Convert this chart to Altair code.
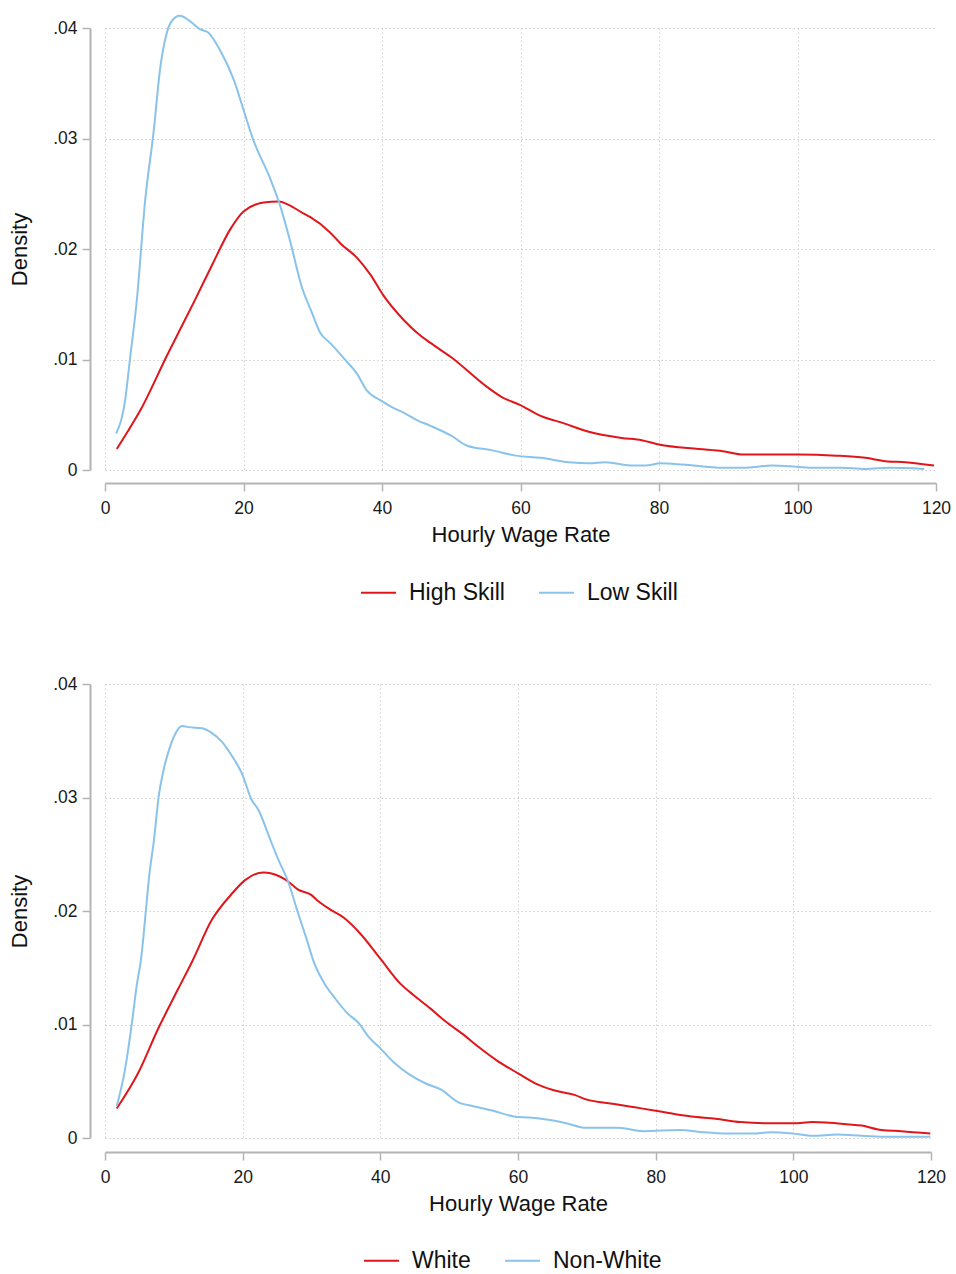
import altair as alt
import pandas as pd

# ---------------- data ----------------
top_high_x = [1.7, 3.3, 5.1, 8.9, 13.0, 15.5, 18.1, 20.0, 22.9, 25.1, 26.5, 28.7, 29.6, 32.5, 34.0, 36.4,
              38.3, 40.2, 43.1, 45.1, 47.0, 50.0, 55.2, 57.3, 59.9, 62.9, 66.4, 69.6, 74.6, 77.5, 80.0,
              85.7, 89.2, 92.2, 97.4, 100.0, 105.6, 109.8, 112.7, 115.6, 119.7]
top_high_y = [0.0019, 0.0035, 0.0054, 0.0103, 0.0154, 0.0186, 0.0218, 0.0234, 0.0242, 0.0243, 0.0240,
              0.0232, 0.0229, 0.0215, 0.0205, 0.0192, 0.0177, 0.0158, 0.0136, 0.0124, 0.0115, 0.0102,
              0.0075, 0.0066, 0.0059, 0.0049, 0.0042, 0.0035, 0.0029, 0.0027, 0.0023, 0.0019, 0.0017,
              0.0014, 0.0014, 0.0014, 0.0013, 0.0011, 0.0008, 0.0007, 0.0004]

top_low_x = [1.6, 2.9, 3.6, 4.6, 5.8, 7.0, 8.0, 8.9, 9.6, 10.8, 12.3, 13.7, 14.9, 16.6, 18.6, 20.0, 21.4,
             23.9, 25.3, 26.7, 28.4, 29.9, 31.1, 32.5, 34.5, 36.4, 37.8, 39.8, 41.7, 43.1, 45.1, 47.0,
             50.0, 52.3, 55.8, 59.3, 62.9, 67.0, 69.9, 72.2, 76.3, 78.1, 80.2, 83.4, 89.2, 92.2, 96.3,
             99.8, 102.4, 106.2, 109.8, 113.3, 118.3]
top_low_y = [0.0033, 0.0063, 0.0100, 0.0154, 0.0244, 0.0305, 0.0365, 0.0395, 0.0406, 0.0411, 0.0406,
             0.0399, 0.0396, 0.0380, 0.0353, 0.0326, 0.0299, 0.0263, 0.0239, 0.0208, 0.0166, 0.0142,
             0.0124, 0.0115, 0.0101, 0.0087, 0.0072, 0.0063, 0.0056, 0.0052, 0.0045, 0.0040, 0.0031,
             0.0022, 0.0018, 0.0013, 0.0011, 0.0007, 0.0006, 0.0007, 0.0004, 0.0004, 0.0006, 0.0005,
             0.0002, 0.0002, 0.0004, 0.0003, 0.0002, 0.0002, 0.0001, 0.0002, 0.0001]

bot_white_x = [1.7, 4.8, 7.7, 10.6, 12.7, 15.5, 18.4, 20.3, 23.0, 24.2, 26.6, 28.0, 30.0, 30.9, 32.8,
               34.7, 37.1, 40.0, 42.9, 44.8, 47.3, 49.4, 52.3, 54.1, 57.0, 60.0, 62.9, 65.2, 68.2,
               69.9, 74.0, 77.0, 80.0, 82.9, 85.2, 88.7, 92.3, 96.4, 100.0, 102.8, 108.1, 109.9,
               112.8, 115.7, 119.9]
bot_white_y = [0.0026, 0.0057, 0.0096, 0.0131, 0.0156, 0.0192, 0.0215, 0.0227, 0.0234, 0.0233, 0.0226,
               0.0219, 0.0214, 0.0209, 0.0201, 0.0194, 0.0180, 0.0158, 0.0136, 0.0126, 0.0114, 0.0103,
               0.0090, 0.0081, 0.0068, 0.0057, 0.0047, 0.0042, 0.0038, 0.0034, 0.0030, 0.0027, 0.0024,
               0.0021, 0.0019, 0.0017, 0.0014, 0.0013, 0.0013, 0.0014, 0.0012, 0.0011, 0.0007, 0.0006,
               0.0004]

bot_nonwhite_x = [1.7, 2.9, 3.9, 4.6, 5.2, 6.5, 7.1, 7.8, 8.5, 9.3, 10.2, 11.2, 12.1, 14.1, 15.5, 17.0,
                  18.4, 19.9, 21.3, 22.3, 24.0, 25.2, 26.6, 28.0, 29.2, 30.4, 31.9, 33.3, 35.2, 36.9,
                  38.3, 40.0, 41.9, 44.2, 46.6, 48.7, 51.5, 53.5, 56.4, 59.4, 61.7, 64.4, 67.0, 69.9,
                  74.6, 78.2, 83.5, 87.0, 89.9, 94.0, 96.7, 99.9, 102.8, 106.4, 109.9, 114.0, 119.9]
bot_nonwhite_y = [0.0028, 0.0060, 0.0101, 0.0134, 0.0156, 0.0235, 0.0262, 0.0301, 0.0324, 0.0342,
                  0.0356, 0.0363, 0.0362, 0.0361, 0.0357, 0.0349, 0.0337, 0.0321, 0.0298, 0.0289,
                  0.0263, 0.0245, 0.0226, 0.0199, 0.0177, 0.0154, 0.0136, 0.0124, 0.0110, 0.0101,
                  0.0089, 0.0079, 0.0067, 0.0056, 0.0048, 0.0043, 0.0031, 0.0028, 0.0024, 0.0019,
                  0.0018, 0.0016, 0.0013, 0.0009, 0.0009, 0.0006, 0.0007, 0.0005, 0.0004, 0.0004,
                  0.0005, 0.0004, 0.0002, 0.0003, 0.0002, 0.0001, 0.0001]

top_labels = ["High Skill", "Low Skill"]
bot_labels = ["White", "Non-White"]
x_ticks = [0, 20, 40, 60, 80, 100, 120]
y_ticks = [0, 0.01, 0.02, 0.03, 0.04]

RED = "#e0161b"
BLUE = "#89c3eb"
FONT = "Liberation Sans"


def frame(xs, ys, name):
    return pd.DataFrame({"wage": xs, "density": ys, "group": name})


def panel(df, labels, width, height, xoff, yoff, lx, ly):
    return alt.Chart(df).mark_line(strokeWidth=2, interpolate="monotone", clip=False).encode(
        x=alt.X("wage:Q",
                scale=alt.Scale(domain=[0, 120], nice=False, zero=False),
                axis=alt.Axis(values=x_ticks, title="Hourly Wage Rate", offset=xoff,
                              labelFlush=False,
                              gridOpacity={"condition": {"test": "datum.value === 120", "value": 0},
                                           "value": 1})),
        y=alt.Y("density:Q",
                scale=alt.Scale(domain=[0, 0.04], nice=False),
                axis=alt.Axis(values=y_ticks, title="Density", offset=yoff,
                              labelExpr="datum.value == 0 ? '0' : replace(format(datum.value, '.2f'), '0.', '.')")),
        color=alt.Color("group:N",
                        scale=alt.Scale(domain=labels, range=[RED, BLUE]),
                        legend=alt.Legend(title=None, orient="none", legendX=lx, legendY=ly,
                                          direction="horizontal")),
    ).properties(width=width, height=height)


top_df = pd.concat([frame(top_high_x, top_high_y, top_labels[0]),
                    frame(top_low_x, top_low_y, top_labels[1])])
bot_df = pd.concat([frame(bot_white_x, bot_white_y, bot_labels[0]),
                    frame(bot_nonwhite_x, bot_nonwhite_y, bot_labels[1])])

top = panel(top_df, top_labels, 831, 442, 13, 15, 255, 546)
bot = panel(bot_df, bot_labels, 826, 454, 14, 15, 258, 558)

chart = alt.vconcat(top, bot, spacing=70).resolve_scale(color="independent").properties(
    padding={"left": 8, "top": 11, "right": 5, "bottom": 2}
).configure_view(stroke=None).configure_axis(
    labelFont=FONT, labelFontSize=17.5, labelColor="#1a1a1a", labelPadding=5,
    titleFont=FONT, titleFontSize=22, titleFontWeight="normal", titleColor="#111111",
    domainColor="#b4b4b4", domainWidth=2, tickColor="#b4b4b4", tickWidth=1.5, tickSize=8,
    gridColor="#cfcfcf", gridDash=[1.5, 2.5], gridWidth=1,
).configure_axisX(titlePadding=8, labelPadding=8).configure_axisY(titlePadding=21).configure_legend(
    symbolType="stroke", symbolSize=1225, symbolStrokeWidth=2,
    labelFont=FONT, labelFontSize=23, labelColor="#111111", labelOffset=12, columnPadding=30,
)

chart.save("out.html", embed_options={"renderer": "svg", "actions": False})
